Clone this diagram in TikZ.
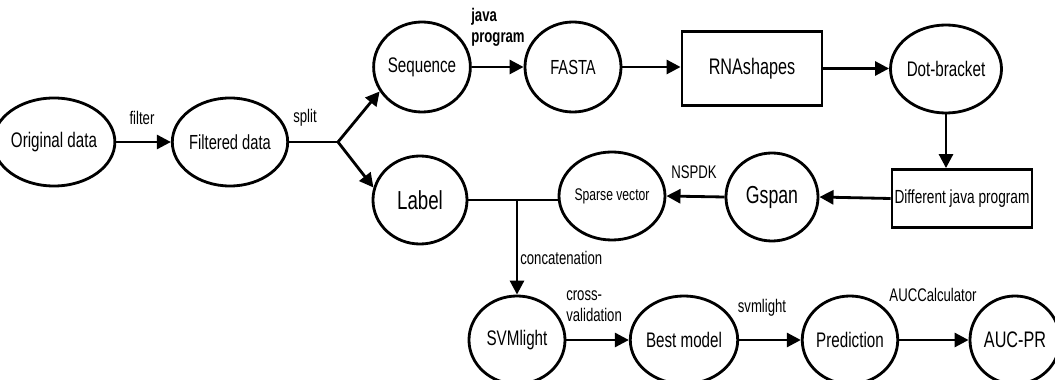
\documentclass[tikz,border=0pt]{standalone}
\usepackage{fontspec}
\setmainfont{Liberation Sans}[FakeStretch=0.72]
\usetikzlibrary{shapes.geometric,arrows.meta}
\tikzset{
  proc/.style={ellipse, draw, line width=2pt, minimum width=2.4cm, minimum height=2.2cm,
    inner sep=0pt, font=\fontsize{15}{17}\selectfont},
  tool/.style={rectangle, draw, line width=2pt, inner sep=0pt, font=\fontsize{16}{18}\selectfont},
  flow/.style={line width=2pt, -{Triangle[length=10pt,width=10pt]}},
  link/.style={line width=2pt},
  lbl/.style={inner sep=0pt, align=left, font=\fontsize{13}{15}\selectfont},
}
\begin{document}
\begin{tikzpicture}[x=0.025cm,y=-0.025cm]
    \useasboundingbox (0,0) rectangle (1055,380);
    % first row
    \node[proc, minimum width=2.55cm] (orig) at (54,142) {Original data};
    \node[proc, font=\fontsize{14.5}{17}\selectfont] (filt) at (230,142) {Filtered data};
    \node[proc, minimum width=2.35cm, minimum height=2.25cm] (seq) at (422,67) {Sequence};
    \node[proc, minimum height=2.25cm, font=\fontsize{14.5}{17}\selectfont] (fasta) at (573,67) {FASTA};
    \node[tool, minimum width=3.5cm, minimum height=1.85cm] (rnash) at (752,68.5) {RNAshapes};
    \node[proc] (dotb) at (946,69) {Dot-bracket};
    % second row
    \node[tool, minimum width=3.5cm, minimum height=1.45cm, font=\fontsize{13.5}{16}\selectfont] (diff) at (962,198.5) {Different java program};
    \node[proc, minimum width=2.3cm, font=\fontsize{17.5}{20}\selectfont] (gspan) at (772,197) {Gspan};
    \node[proc, font=\fontsize{12}{14}\selectfont] (sparse) at (612,196) {Sparse vector};
    \node[proc, minimum width=2.35cm, font=\fontsize{18.5}{21}\selectfont] (label) at (420,200) {Label};
    % third row
    \node[proc] (svm) at (517,340) {SVMlight};
    \node[proc, minimum width=2.35cm] (best) at (684,340) {Best model};
    \node[proc, minimum width=2.35cm] (pred) at (850,340) {Prediction};
    \node[proc, minimum width=2.25cm, font=\fontsize{16}{18}\selectfont] (auc) at (1015,340) {AUC-PR};
    % junctions
    \coordinate (split) at (338,142);
    \coordinate (cat) at (517,200);
    % connectors
    \draw[flow] (orig) -- (filt);
    \draw[link] (filt.east) -- (split);
    \draw[flow] (split) -- (seq.210);
    \draw[flow] (split) -- (label.165);
    \draw[flow] (seq) -- (fasta);
    \draw[flow] (fasta.east) -- (fasta.east -| rnash.west);
    \draw[flow] (rnash.east) -- (rnash.east -| dotb.west);
    \draw[flow] (dotb.south) -- (dotb.south |- diff.north);
    \draw[flow] (diff.west) -- (gspan.east);
    \draw[flow] (gspan.west) -- (sparse.east);
    \draw[link] (label.east) -- (cat) -- (cat -| sparse.west);
    \draw[flow] (cat) -- (svm.north);
    \draw[flow] (svm) -- (best);
    \draw[flow] (best) -- (pred);
    \draw[flow] (pred) -- (auc);
    % labels
    \node[lbl] (lfilter) at (142,118) {filter};
    \node[lbl] (lsplit) at (305,118) {split};
    \node[lbl, anchor=west, font=\bfseries\fontsize{13}{15}\selectfont] (ljava) at (471,27) {java\\program};
    \node[lbl] (lnspdk) at (694,172) {NSPDK};
    \node[lbl, anchor=west] (lcat) at (520,258) {concatenation};
    \node[lbl, anchor=west] (lcross) at (566,306) {cross-\\validation};
    \node[lbl] (lsvm) at (762,308) {svmlight};
    \node[lbl] (lauc) at (933,295) {AUCCalculator};
\end{tikzpicture}
\end{document}
